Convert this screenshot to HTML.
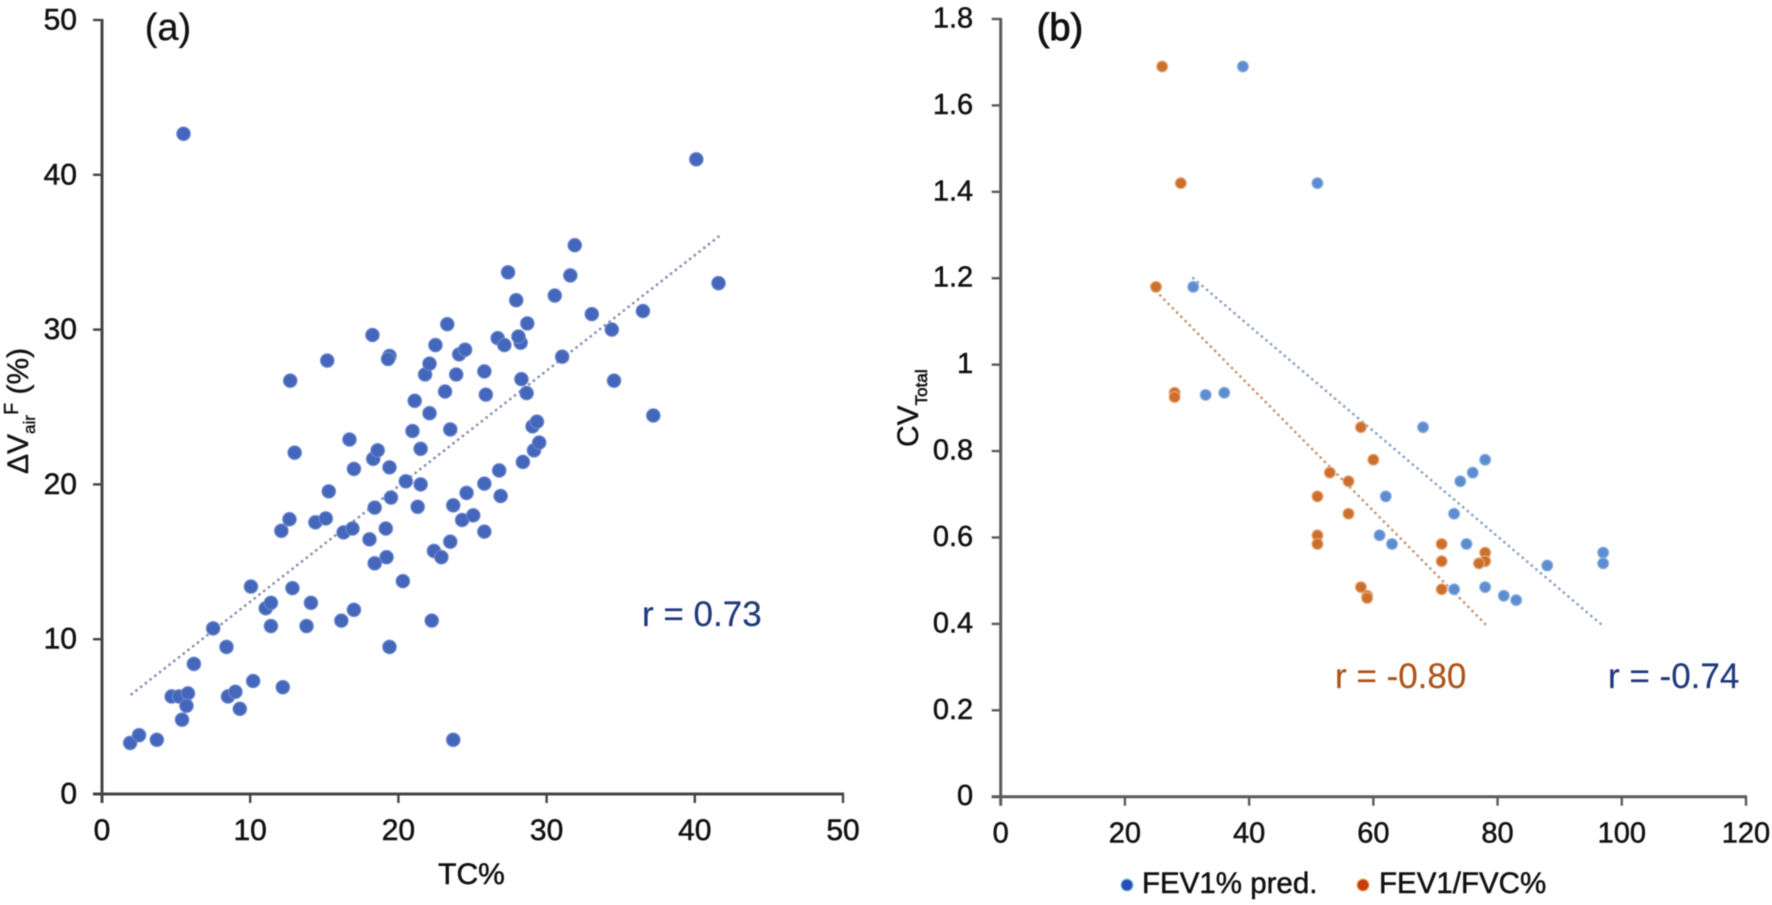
<!DOCTYPE html>
<html lang="en">
<head>
<meta charset="utf-8">
<title>TC% and CV Total scatter plots</title>
<style>
html,body{margin:0;padding:0;background:#fff;width:1772px;height:905px;overflow:hidden}
svg{display:block;font-family:"Liberation Sans",sans-serif}
</style>
</head>
<body>
<svg id="figure" xmlns="http://www.w3.org/2000/svg" width="1772" height="905" viewBox="0 0 1772 905">
  <rect width="1772" height="905" fill="#ffffff"/>
  <g id="root" style="filter:blur(0.6px)">
    <g id="panel-a"></g>
    <g id="panel-b"></g>
    <text x="168" y="40" font-size="38" stroke="#111" stroke-width="0.3" text-anchor="middle" fill="#111">(a)</text>
    <text x="1060" y="40" font-size="38" stroke="#111" stroke-width="0.9" text-anchor="middle" fill="#111">(b)</text>
    <text x="471.5" y="884" font-size="30" stroke="#111" stroke-width="0.5" text-anchor="middle" fill="#111">TC%</text>
    <text transform="translate(28,474) rotate(-90)" font-size="30" stroke="#111" stroke-width="0.4" fill="#111">ΔV<tspan font-size="17" dy="7">air</tspan><tspan font-size="20" dy="-17">F</tspan><tspan dy="10"> (%)</tspan></text>
    <text transform="translate(918,447) rotate(-90)" font-size="30" stroke="#111" stroke-width="0.4" fill="#111">CV<tspan font-size="17" dy="9" stroke-width="0.6">Total</tspan></text>
    <text x="642" y="626" font-size="35" stroke="#1f3a7d" stroke-width="0.2" fill="#1f3a7d">r = 0.73</text>
    <text x="1335" y="688" font-size="35" stroke="#ad5318" stroke-width="0.2" fill="#ad5318">r = -0.80</text>
    <text x="1608" y="688" font-size="35" stroke="#1f3a7d" stroke-width="0.2" fill="#1f3a7d">r = -0.74</text>
    <circle cx="1127" cy="885" r="6" fill="#2a4db5" stroke="#7fd0ee" stroke-width="1.2"/>
    <text x="1142" y="893" font-size="29.5" stroke="#111" stroke-width="0.5" fill="#111">FEV1% pred.</text>
    <circle cx="1363" cy="885" r="6" fill="#c83a14" stroke="#eebb66" stroke-width="1.2"/>
    <text x="1379" y="893" font-size="29.5" stroke="#111" stroke-width="0.5" fill="#111">FEV1/FVC%</text>
  </g>
</svg>
<script>
// Panel (a) data
const aTcPercent = [1.9,2.5,3.7,4.7,5.2,5.8,5.7,5.4,6.2,7.5,8.4,8.5,9,9.3,10.2,10.05,11.05,11.4,11.4,12.2,12.1,12.65,12.85,12.7,13,13.8,14.1,14.4,15.1,15.3,15.2,16.15,16.3,16.9,16.7,17,17,18.05,18.25,18.3,18.4,18.4,18.6,19.15,19.2,19.4,19.4,19.5,19.4,19.3,20.3,20.5,20.95,21.1,21.3,21.5,21.5,21.8,22.1,22.1,22.25,22.4,22.5,22.9,23.15,23.3,23.5,23.5,23.7,23.7,23.9,24.1,24.3,24.5,24.6,25.05,25.8,25.8,25.9,25.8,26.7,26.8,27.15,26.9,27.4,27.95,28.25,28.1,28.3,28.4,28.65,28.7,29.15,29.05,29.35,29.5,30.55,31.05,31.6,31.9,33.05,34.4,34.55,36.5,37.2,40.1,41.6,5.5];
const aDeltaVair = [3.3,3.8,3.5,6.3,6.3,6.5,5.7,4.8,8.4,10.7,9.5,6.3,6.6,5.5,7.3,13.4,12,12.35,10.85,6.9,17,17.75,13.3,26.7,22.05,10.85,12.35,17.55,17.8,19.55,28,11.2,16.9,17.15,22.9,11.9,21,16.45,29.65,21.65,18.5,14.9,22.2,17.15,15.3,21.1,9.5,19.15,28.3,28.1,13.75,20.2,23.45,25.4,18.55,22.3,20,27.1,27.8,24.6,11.2,15.7,29,15.3,26,30.35,16.3,23.55,18.65,3.5,27.1,28.4,17.7,28.7,19.45,18,16.95,20.05,25.8,27.3,29.45,20.9,29,19.25,33.7,31.9,29.15,29.55,26.8,21.45,25.9,30.4,22.2,23.75,24.05,22.7,32.2,28.25,33.5,35.45,31,30,26.7,31.2,24.45,41,33,42.65];
const aTrendX = [2,41.6];
const aTrendY = [6.45,36];
const aXTicks = [0,10,20,30,40,50];
const aYTicks = [0,10,20,30,40,50];

// Panel (b) data
const bBlueX = [39,51,31,33,36,68,78,76,74,62,73,61,63,75,88,97,97,73,78,81,83];
const bBlueY = [1.69,1.42,1.18,0.93,0.935,0.855,0.78,0.75,0.73,0.695,0.655,0.605,0.585,0.585,0.535,0.565,0.54,0.48,0.485,0.465,0.455];
const bOrangeX = [26,29,25,28,28,58,60,53,56,51,56,51,51,71,71,78,78,77,58,59,59,71];
const bOrangeY = [1.69,1.42,1.18,0.935,0.925,0.855,0.78,0.75,0.73,0.695,0.655,0.605,0.585,0.585,0.545,0.565,0.545,0.54,0.485,0.465,0.46,0.48];
const bBlueTrendX = [31,97];
const bBlueTrendY = [1.2,0.395];
const bOrangeTrendX = [25,78];
const bOrangeTrendY = [1.17,0.4];
const bXTicks = [0,20,40,60,80,100,120];
const bYTicks = [0,0.2,0.4,0.6,0.8,1,1.2,1.4,1.6,1.8];

const NS = 'http://www.w3.org/2000/svg';

function make(parent, tag, attrs, text) {
  const el = document.createElementNS(NS, tag);
  for (const k in attrs) el.setAttribute(k, attrs[k]);
  if (text !== undefined) el.textContent = text;
  parent.appendChild(el);
  return el;
}

function linearScale(d0, d1, r0, r1) {
  return function (v) { return r0 + (v - d0) * (r1 - r0) / (d1 - d0); };
}

function drawAxes(g, sx, sy, xTicks, yTicks, prefix, fontSize, yGap, labelDy, color) {
  const x0 = sx(xTicks[0]);
  const x1 = sx(xTicks[xTicks.length - 1]);
  const y0 = sy(yTicks[0]);
  const y1 = sy(yTicks[yTicks.length - 1]);
  const yAxis = make(g, 'line', {x1: x0, x2: x0, y1: y1 - 1, y2: y0 + 9, stroke: color, 'stroke-width': 3});
  
  
  const xAxis = make(g, 'line', {x1: x0 - 9, x2: x1 + 1, y1: y0, y2: y0, stroke: color, 'stroke-width': 3});
  
  
  xTicks.forEach(function (t) {
    const tick = make(g, 'line', {x1: sx(t), x2: sx(t), y1: y0, y2: y0 + 9, stroke: color, 'stroke-width': 2.4});
    
    
    const label = make(g, 'text', {x: sx(t), y: y0 + 46, 'font-size': fontSize, 'text-anchor': 'middle', fill: '#111', stroke: '#111', 'stroke-width': 0.5}, String(t));
    
    
  });
  yTicks.forEach(function (t) {
    const tick = make(g, 'line', {x1: x0 - 9, x2: x0, y1: sy(t), y2: sy(t), stroke: color, 'stroke-width': 2.4});
    
    
    const label = make(g, 'text', {x: x0 - yGap, y: sy(t) + labelDy, 'font-size': fontSize, 'text-anchor': 'end', fill: '#111', stroke: '#111', 'stroke-width': 0.5}, String(t));
    
    
  });
}

function drawTrend(g, sx, sy, xs, ys, color, name) {
  const line = make(g, 'line', {x1: sx(xs[0]), y1: sy(ys[0]), x2: sx(xs[1]), y2: sy(ys[1]), stroke: color, 'stroke-width': 2.8, 'stroke-linecap': 'round', 'stroke-dasharray': '0.1 5.9'});
  
  
}

function drawPoints(g, sx, sy, xs, ys, r, fill, edge, name) {
  xs.forEach(function (x, i) {
    const dot = make(g, 'circle', {cx: sx(x), cy: sy(ys[i]), r: r, fill: fill, stroke: edge, 'stroke-width': 1.2});
    
    
  });
}

const aX = linearScale(0, 50, 102, 843);
const aY = linearScale(0, 50, 794, 20);
const bX = linearScale(0, 120, 1000.7, 1746);
const bY = linearScale(0, 1.8, 796.7, 19);

const panelA = document.getElementById('panel-a');
const panelB = document.getElementById('panel-b');

drawAxes(panelA, aX, aY, aXTicks, aYTicks, 'panel-a', 30, 25, 9.5, '#444444');
drawTrend(panelA, aX, aY, aTrendX, aTrendY, '#8b94b3', 'panel-a-trendline');
drawPoints(panelA, aX, aY, aTcPercent, aDeltaVair, 6.7, '#4466bb', '#6a86cc', 'panel-a-point');

drawAxes(panelB, bX, bY, bXTicks, bYTicks, 'panel-b', 29, 27.5, 8.5, '#5a5a5a');
drawTrend(panelB, bX, bY, bBlueTrendX, bBlueTrendY, '#8fa6c6', 'panel-b-blue-trendline');
drawTrend(panelB, bX, bY, bOrangeTrendX, bOrangeTrendY, '#c79a78', 'panel-b-orange-trendline');
drawPoints(panelB, bX, bY, bBlueX, bBlueY, 5.4, '#5b8dd0', '#8db0de', 'panel-b-fev1-pred-point');
drawPoints(panelB, bX, bY, bOrangeX, bOrangeY, 5.4, '#cc6f2c', '#e4a678', 'panel-b-fev1-fvc-point');
</script>
</body>
</html>
